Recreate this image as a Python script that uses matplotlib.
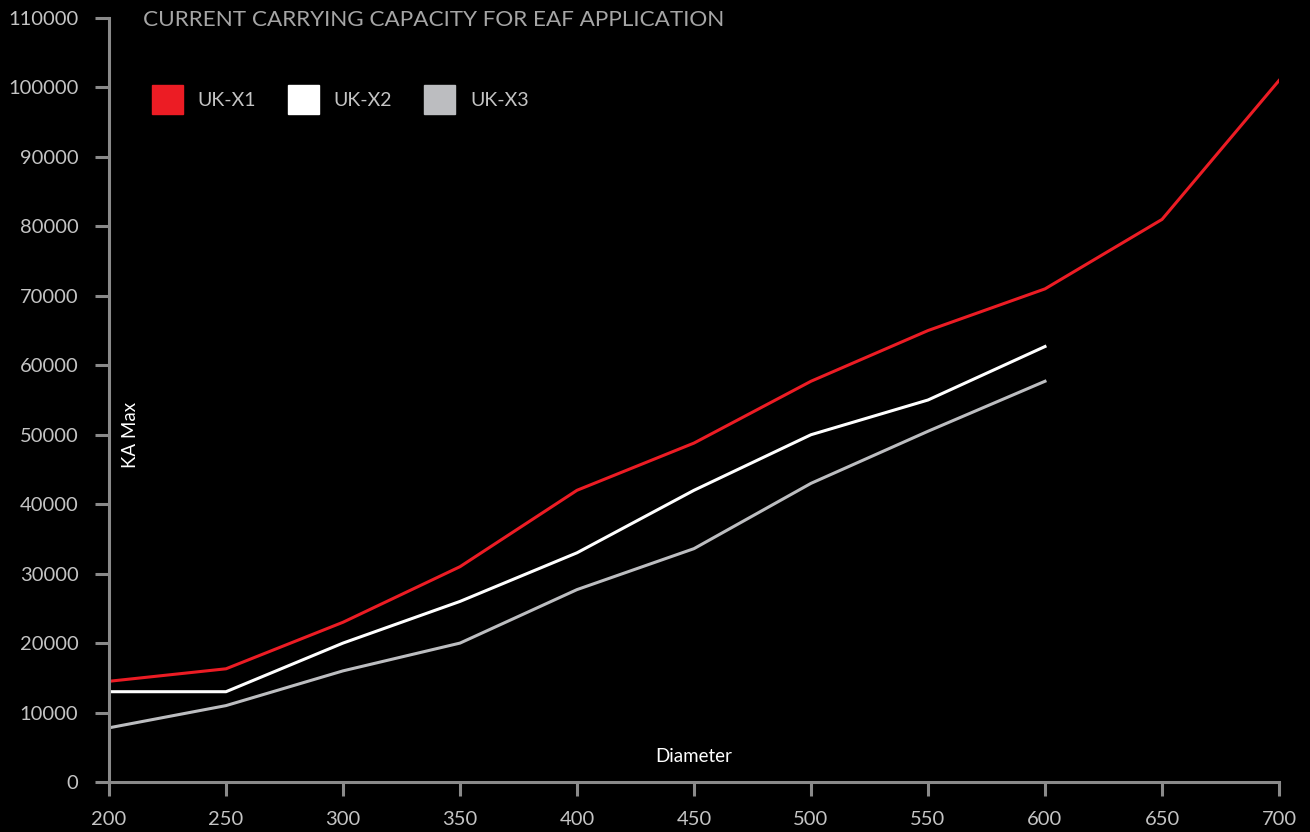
import matplotlib
matplotlib.use("Agg")
import matplotlib.pyplot as plt
from matplotlib.patches import Patch

plt.rcParams['font.family'] = ['Lato', 'DejaVu Sans']

diameter = [200, 250, 300, 350, 400, 450, 500, 550, 600, 650, 700]
uk_x1 = [14500, 16300, 23000, 31000, 42000, 48800, 57700, 65000, 71000, 81000, 101000]
uk_x2 = [13000, 13000, 20000, 26000, 33000, 42000, 50000, 55000, 62700]
uk_x3 = [7800, 11000, 16000, 20000, 27700, 33600, 43000, 50500, 57700]

red = '#ec1c24'
grey = '#bcbdc0'
axis_col = '#8a8a8a'
text_col = '#c4c4c4'

fig = plt.figure(figsize=(13.1, 8.32), dpi=100, facecolor='black')
ax = fig.add_axes([109/1310, 50/832, 1170/1310, 764/832], facecolor='black')

ax.plot(diameter, uk_x1, color=red, lw=2.2)
ax.plot(diameter[:len(uk_x2)], uk_x2, color='white', lw=2.2)
ax.plot(diameter[:len(uk_x3)], uk_x3, color=grey, lw=2.2)

ax.set_xlim(200, 700)
ax.set_ylim(0, 110000)
ax.set_xticks(diameter)
ax.set_yticks(range(0, 110001, 10000))

for side in ['top', 'right']:
    ax.spines[side].set_visible(False)
for side in ['left', 'bottom']:
    ax.spines[side].set_color(axis_col)
    ax.spines[side].set_linewidth(2.2)
ax.tick_params(colors=axis_col, width=2.2, length=10, labelcolor=text_col, labelsize=14.5)
ax.tick_params(axis='y', pad=12)
ax.tick_params(axis='x', pad=11)

ax.text(209, 50000, 'KA Max', rotation=90, color='white',
        fontsize=13.5, ha='center', va='center')
ax.text(0.5, 0.033, 'Diameter', transform=ax.transAxes, color='white',
        fontsize=13.5, ha='center', va='center')
fig.text(143/1310, 1 - 20/832, 'CURRENT CARRYING CAPACITY FOR EAF APPLICATION',
         color='#a6a6a6', fontsize=16.2, ha='left', va='center')

handles = [Patch(color=red, label='UK-X1'), Patch(color='white', label='UK-X2'),
           Patch(color=grey, label='UK-X3')]
leg = ax.legend(handles=handles, ncol=3, frameon=False, loc='center left',
                bbox_to_anchor=(0.0283, 0.8933), fontsize=14, borderpad=0,
                handlelength=1.6, handleheight=1.9, handletextpad=0.75,
                columnspacing=1.65)
for t in leg.get_texts():
    t.set_color(text_col)

fig.savefig('out.png', dpi=100, facecolor='black')
